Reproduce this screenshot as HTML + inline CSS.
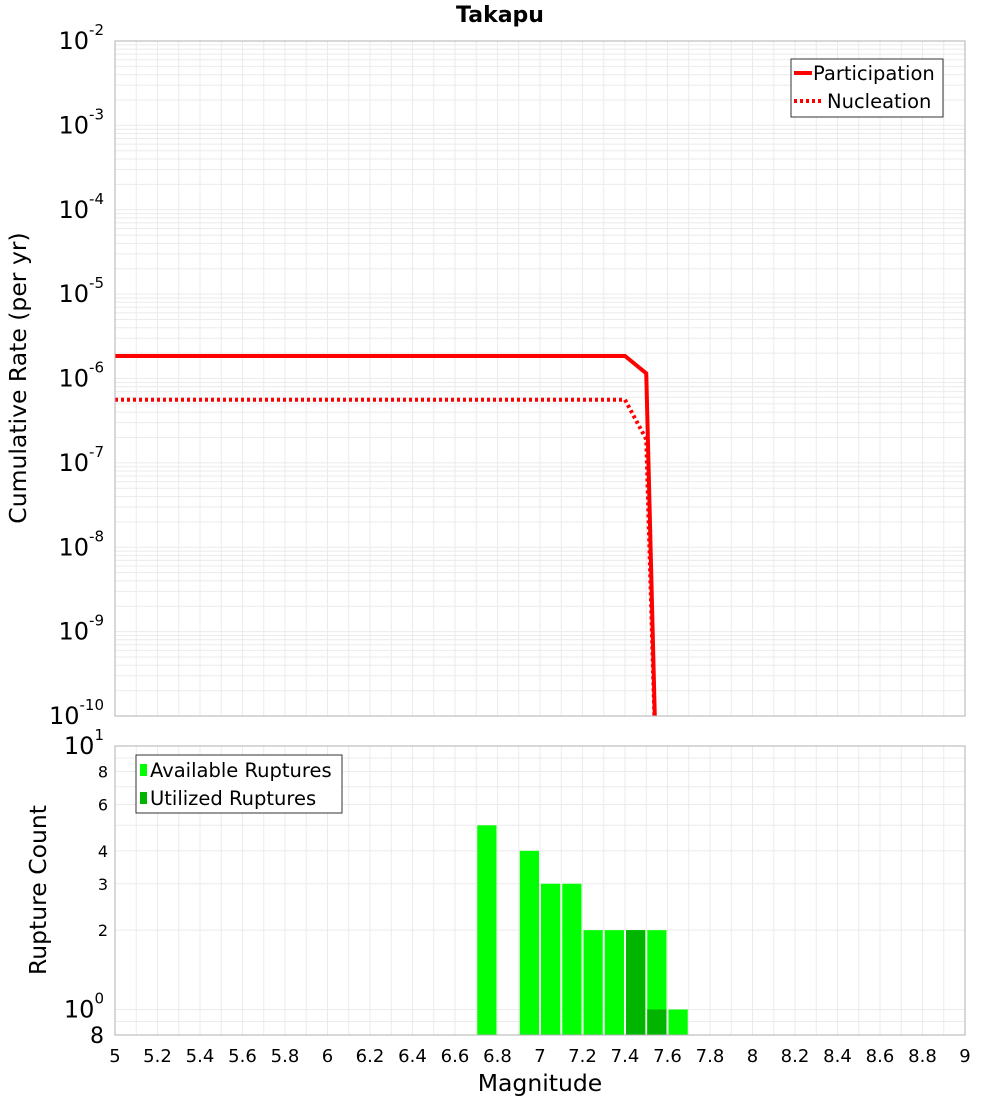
<!DOCTYPE html>
<html><head><meta charset="utf-8"><style>
body{margin:0;background:#fff;font-family:"Liberation Sans","DejaVu Sans",sans-serif}
</style></head><body>
<svg id="c" width="1000" height="1100" xmlns="http://www.w3.org/2000/svg" style="font-family:'DejaVu Sans','Liberation Sans',sans-serif"></svg>
<script>
const partMags=[5,7.4,7.5,7.55];
const partRates=[1.85e-6,1.85e-6,1.15e-6,1e-11];
const nuclMags=[5,7.4,7.5,7.55];
const nuclRates=[5.6e-7,5.6e-7,1.9e-7,1e-11];
const binMags=[6.75,6.95,7.05,7.15,7.25,7.35,7.45,7.55,7.65];
const availCounts=[5,4,3,3,2,2,2,2,1];
const utilCounts=[0,0,0,0,0,0,2,1,0];
const xTicks=[5,5.2,5.4,5.6,5.8,6,6.2,6.4,6.6,6.8,7,7.2,7.4,7.6,7.8,8,8.2,8.4,8.6,8.8,9];
const yTopExps=[-2,-3,-4,-5,-6,-7,-8,-9,-10];
const yBotTicks=[8,6,4,3,2];

const svg=document.getElementById('c');const NS='http://www.w3.org/2000/svg';
function el(t,a,p){const e=document.createElementNS(NS,t);for(const k in a)e.setAttribute(k,a[k]);(p||svg).appendChild(e);return e;}
const L=115,R=965,T1=41,B1=716,T2=746,B2=1035;
const x=m=>L+(m-5)/4*(R-L);
const y1=v=>T1+(-2-Math.log10(v))/8*(B1-T1);
const bmin=Math.log10(0.8);
const y2=v=>T2+(1-Math.log10(v))/(1-bmin)*(B2-T2);

let t=el('text',{x:500,y:22,'text-anchor':'middle','font-size':22,'font-weight':'bold'});t.textContent='Takapu';


const g=el('g',{stroke:'#ebebeb','stroke-width':1});

for(let e=-10;e<-2;e++)for(let k=1;k<10;k++){const yy=y1(k*Math.pow(10,e));el('line',{x1:L,x2:R,y1:yy,y2:yy},g);}
for(const v of [0.8,0.9,1,2,3,4,5,6,7,8,9,10]){const yy=y2(v);el('line',{x1:L,x2:R,y1:yy,y2:yy},g);}
for(let m=5;m<=9.001;m+=0.1){const xx=x(m);el('line',{x1:xx,x2:xx,y1:T1,y2:B1},g);el('line',{x1:xx,x2:xx,y1:T2,y2:B2},g);}

const d=el('defs',{});const cp=el('clipPath',{id:'cp'},d);el('rect',{x:L,y:T1,width:R-L,height:B1-T1},cp);

function line(ms,vs,dash,name){const p=ms.map((m,i)=>x(m)+','+y1(vs[i])).join(' ');
const pl=el('polyline',{points:p,fill:'none',stroke:'#ff0000','stroke-width':4,'clip-path':'url(#cp)'});
if(dash)pl.setAttribute('stroke-dasharray','3,3');
}
line(nuclMags,nuclRates,true,'nucleation-line');
line(partMags,partRates,false,'participation-line');

binMags.forEach((m,i)=>{
 const r=el('rect',{x:x(m-0.05)+1,width:x(m+0.05)-x(m-0.05)-2,y:y2(availCounts[i]),height:B2-y2(availCounts[i]),fill:'#00ff00'});
 
 if(utilCounts[i]>0){const u=el('rect',{x:x(m-0.05)+1,width:x(m+0.05)-x(m-0.05)-2,y:y2(utilCounts[i]),height:B2-y2(utilCounts[i]),fill:'#00b400'});
 }
});

el('rect',{x:L,y:T1,width:R-L,height:B1-T1,fill:'none',stroke:'#b0b0b0'});
el('rect',{x:L,y:T2,width:R-L,height:B2-T2,fill:'none',stroke:'#b0b0b0'});

yTopExps.forEach(e=>{const yy=y1(Math.pow(10,e));
 const tx=el('text',{x:104,y:yy+8,'text-anchor':'end','font-size':24});
 
 tx.textContent='10';const s=el('tspan',{dy:-14,'font-size':15},tx);s.textContent=e;});
let tt=el('text',{x:104,y:y2(10)+8,'text-anchor':'end','font-size':24});tt.textContent='10';el('tspan',{dy:-14,'font-size':15},tt).textContent='1';
tt=el('text',{x:104,y:y2(1)+8,'text-anchor':'end','font-size':24});tt.textContent='10';el('tspan',{dy:-14,'font-size':15},tt).textContent='0';
el('text',{x:104,y:B2+8,'text-anchor':'end','font-size':22}).textContent='8';
yBotTicks.forEach(v=>{const tx=el('text',{x:108,y:y2(v)+6,'text-anchor':'end','font-size':16});tx.textContent=v;
 });
xTicks.forEach(m=>{const tx=el('text',{x:x(m),y:1062,'text-anchor':'middle','font-size':18});tx.textContent=String(+m.toFixed(1));
 });
t=el('text',{x:540,y:1091,'text-anchor':'middle','font-size':23.5});t.textContent='Magnitude';

t=el('text',{x:0,y:0,'text-anchor':'middle','font-size':23.5,transform:'translate(26,378) rotate(-90)'});t.textContent='Cumulative Rate (per yr)';

t=el('text',{x:0,y:0,'text-anchor':'middle','font-size':23.5,transform:'translate(46,890) rotate(-90)'});t.textContent='Rupture Count';


let lg=el('g',{});
el('rect',{x:791,y:59,width:152,height:58,fill:'#fff',stroke:'#333'},lg);
el('line',{x1:794,x2:812,y1:73,y2:73,stroke:'#f00','stroke-width':4},lg);
el('line',{x1:794,x2:822,y1:101,y2:101,stroke:'#f00','stroke-width':4,'stroke-dasharray':'3,3'},lg);
el('text',{x:813,y:80,'font-size':19.5},lg).textContent='Participation';
el('text',{x:827,y:108,'font-size':19.5},lg).textContent='Nucleation';
lg=el('g',{});
el('rect',{x:136,y:755,width:206,height:58,fill:'#fff',stroke:'#333'},lg);
el('rect',{x:140,y:764,width:7,height:12,fill:'#00ff00'},lg);
el('rect',{x:140,y:792,width:7,height:12,fill:'#00b400'},lg);
el('text',{x:150,y:777,'font-size':19.5},lg).textContent='Available Ruptures';
el('text',{x:150,y:805,'font-size':19.5},lg).textContent='Utilized Ruptures';
</script>
</body></html>
